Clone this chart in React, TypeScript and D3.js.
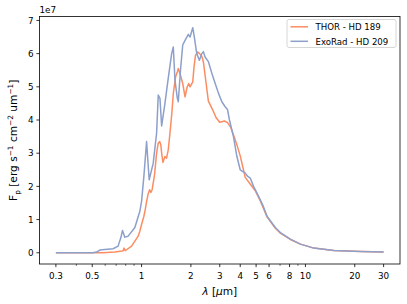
import React from "react";
import * as d3 from "d3";

// THOR - HD 189 (wavelength in µm, flux in 1e7 erg s^-1 cm^-2 um^-1)
const thorWave = [0.3, 0.58, 0.686, 0.758, 0.772, 0.782, 0.794, 0.869, 0.953, 0.976, 1.0, 1.033, 1.053, 1.073, 1.098, 1.12, 1.14, 1.16, 1.2, 1.235, 1.264, 1.29, 1.311, 1.326, 1.35, 1.389, 1.42, 1.455, 1.49, 1.53, 1.562, 1.613, 1.652, 1.675, 1.728, 1.783, 1.842, 1.899, 1.94, 1.976, 2.053, 2.09, 2.133, 2.2, 2.26, 2.33, 2.384, 2.441, 2.5, 2.557, 2.63, 2.72, 2.851, 3.0, 3.2, 3.35, 3.5, 3.64, 3.82, 4.0, 4.142, 4.29, 4.6, 4.94, 5.3, 5.83, 6.55, 7.03, 8.09, 9.32, 11.24, 14.91, 21.72, 30];
const thorFlux = [0, 0, 0.02, 0.05, 0.06, 0.14, 0.06, 0.2, 0.5, 0.65, 0.85, 1.1, 1.3, 1.55, 1.78, 1.9, 1.82, 1.9, 2.35, 3.0, 3.3, 3.35, 3.25, 3.0, 2.72, 2.9, 2.85, 3.1, 3.6, 4.2, 4.8, 5.3, 5.45, 5.55, 5.35, 5.1, 4.7, 5.0, 5.1, 5.0, 5.15, 5.6, 5.95, 6.05, 6.0, 5.92, 5.75, 5.35, 4.95, 4.57, 4.45, 4.3, 4.07, 3.93, 3.97, 3.92, 3.78, 3.55, 3.25, 2.92, 2.6, 2.27, 2.07, 1.87, 1.57, 1.08, 0.74, 0.59, 0.4, 0.26, 0.14, 0.07, 0.04, 0.02];

// ExoRad - HD 209
const exoWave = [0.3, 0.503, 0.532, 0.556, 0.596, 0.67, 0.719, 0.747, 0.765, 0.79, 0.828, 0.91, 0.976, 1.0, 1.033, 1.073, 1.113, 1.178, 1.235, 1.264, 1.295, 1.326, 1.389, 1.455, 1.526, 1.562, 1.599, 1.652, 1.675, 1.728, 1.783, 1.842, 1.929, 1.976, 2.053, 2.091, 2.172, 2.253, 2.33, 2.384, 2.441, 2.557, 2.684, 2.811, 2.945, 3.09, 3.236, 3.344, 3.439, 3.557, 3.638, 3.817, 4.0, 4.292, 4.45, 4.605, 4.825, 5.176, 5.508, 5.83, 6.55, 7.03, 8.09, 9.32, 11.24, 14.91, 21.72, 30];
const exoFlux = [0, 0, 0.02, 0.08, 0.1, 0.12, 0.2, 0.45, 0.67, 0.47, 0.5, 0.76, 1.25, 1.55, 2.3, 3.35, 2.2, 2.7, 3.6, 4.75, 4.65, 3.82, 4.5, 5.26, 6.0, 6.2, 5.2, 4.66, 4.55, 5.5, 6.26, 6.4, 6.58, 6.5, 6.78, 6.55, 6.0, 5.8, 6.0, 6.06, 5.9, 5.76, 5.41, 5.11, 4.81, 4.55, 4.4, 4.32, 4.0, 3.7, 3.5, 2.9, 2.5, 2.4, 2.3, 2.25, 2.0, 1.7, 1.42, 1.1, 0.76, 0.61, 0.41, 0.26, 0.14, 0.07, 0.04, 0.02];

const xTickValues = [0.3, 0.5, 1, 2, 3, 4, 5, 6, 8, 10, 20, 30];
const xTickLabels = ["0.3", "0.5", "1", "2", "3", "4", "5", "6", "8", "10", "20", "30"];
const xMinorTicks = [0.4, 0.6, 0.7, 0.8, 0.9, 7, 9];
const yTickValues = [0, 1, 2, 3, 4, 5, 6, 7];

const seriesNames = ["THOR - HD 189", "ExoRad - HD 209"];
const seriesColors = ["#fc8d62", "#8da0cb"];

const FONT = "DejaVu Sans, sans-serif";

export default function App() {
  const W = 407, H = 304;
  const left = 39.5, right = 400, top = 16.5, bottom = 264;

  const lx0 = Math.log10(0.3), lx1 = Math.log10(30);
  const pad = (lx1 - lx0) * 0.05;
  const x = d3.scaleLog().domain([Math.pow(10, lx0 - pad), Math.pow(10, lx1 + pad)]).range([left, right]);
  const ymax = Math.max(d3.max(thorFlux)!, d3.max(exoFlux)!);
  const ypad = ymax * 0.05;
  const y = d3.scaleLinear().domain([-ypad, ymax + ypad]).range([bottom, top]);

  const line = d3.line<[number, number]>().x(d => x(d[0])).y(d => y(d[1])).curve(d3.curveLinear);
  const thorPath = line(thorWave.map((w, i) => [w, thorFlux[i]]))!;
  const exoPath = line(exoWave.map((w, i) => [w, exoFlux[i]]))!;

  return (
    <svg width={W} height={H} style={{ position: "absolute", left: 0, top: 0 }} fontFamily={FONT}>
      <rect x={0} y={0} width={W} height={H} fill="white" />
      <path d={thorPath} fill="none" stroke={seriesColors[0]} strokeWidth={1.5} strokeLinejoin="round" />
      <path d={exoPath} fill="none" stroke={seriesColors[1]} strokeWidth={1.5} strokeLinejoin="round" />
      <rect x={left} y={top} width={right - left} height={bottom - top} fill="none" stroke="black" strokeWidth={0.8} />
      {xTickValues.map((v, i) => (
        <g key={"xt" + i}>
          <line x1={x(v)} x2={x(v)} y1={bottom} y2={bottom + 3.1} stroke="black" strokeWidth={0.8} />
          <text x={x(v)} y={bottom + 14.5} fontSize={8.8} textAnchor="middle" fill="black">{xTickLabels[i]}</text>
        </g>
      ))}
      {xMinorTicks.map((v, i) => (
        <line key={"xm" + i} x1={x(v)} x2={x(v)} y1={bottom} y2={bottom + 1.8} stroke="black" strokeWidth={0.6} />
      ))}
      {yTickValues.map((v, i) => (
        <g key={"yt" + i}>
          <line x1={left - 3.1} x2={left} y1={y(v)} y2={y(v)} stroke="black" strokeWidth={0.8} />
          <text x={left - 6} y={y(v) + 3.2} fontSize={8.8} textAnchor="end" fill="black">{v}</text>
        </g>
      ))}
      <text x={left} y={top - 4} fontSize={8.8} fill="black">1e7</text>
      <text x={(left + right) / 2} y={295} fontSize={10.6} textAnchor="middle" fill="black">
        <tspan fontStyle="italic">λ</tspan> [<tspan fontStyle="italic">μ</tspan>m]
      </text>
      <text transform={`translate(17,${(top + bottom) / 2}) rotate(-90)`} fontSize={10.6} textAnchor="middle" fill="black">
        F<tspan fontSize={7.4} dy={2.5}>p</tspan>
        <tspan dy={-2.5}> [erg s</tspan><tspan fontSize={7.4} dy={-4}>−1</tspan>
        <tspan dy={4}> cm</tspan><tspan fontSize={7.4} dy={-4}>−2</tspan>
        <tspan dy={4}> um</tspan><tspan fontSize={7.4} dy={-4}>−1</tspan>
        <tspan dy={4}>]</tspan>
      </text>
      <rect x={287} y={19.5} width={109} height={28} rx={2} fill="white" fillOpacity={0.8} stroke="#cccccc" strokeWidth={0.8} />
      {seriesNames.map((n, i) => (
        <g key={"lg" + i}>
          <line x1={290.5} x2={308} y1={26.8 + i * 14.5} y2={26.8 + i * 14.5} stroke={seriesColors[i]} strokeWidth={1.5} />
          <text x={315.5} y={30 + i * 14.5} fontSize={8.6} fill="black">{n}</text>
        </g>
      ))}
    </svg>
  );
}
